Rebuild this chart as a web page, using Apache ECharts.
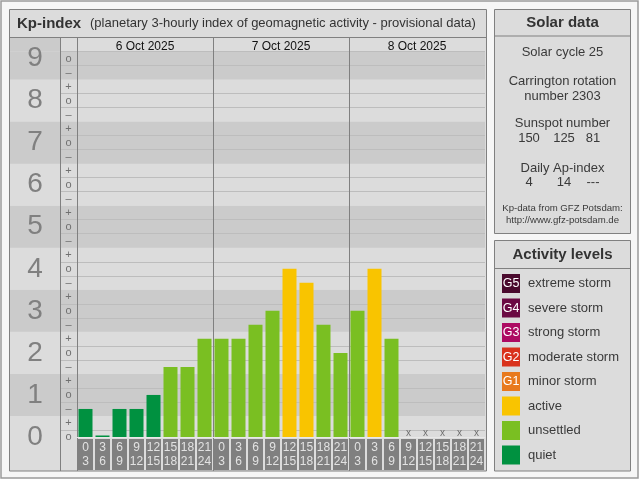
<!DOCTYPE html>
<html>
<head>
<meta charset="utf-8">
<script src="https://cdn.jsdelivr.net/npm/echarts@6/dist/echarts.min.js"></script>
<style>
  html, body { margin: 0; padding: 0; background: #fff; }
  #chart { width: 640px; height: 480px; }
</style>
</head>
<body>
<div id="chart"></div>
<script>
// ─── Data ───────────────────────────────────────────────────────────────────

const days = ['6 Oct 2025', '7 Oct 2025', '8 Oct 2025'];
const hourLabels = ['0\n3', '3\n6', '6\n9', '9\n12', '12\n15', '15\n18', '18\n21', '21\n24'];

// Kp per 3-hour slot, in the usual thirds notation (null = not yet available)
const kpReadings = [
  '1-', '0o', '1-', '1-', '1o', '2-', '2-', '2+',
  '2+', '2+', '3-', '3o', '4o', '4-', '3-', '2o',
  '3o', '4o', '2+', null, null, null, null, null,
];

const kpDigits = [0, 1, 2, 3, 4, 5, 6, 7, 8, 9];

const solarCycle = 25;
const carringtonRotation = 2303;
const sunspotNumbers = ['150', '125', '81'];
const dailyAp = ['4', '14', '---'];

const levels = [
  { tag: 'G5', name: 'extreme storm',  color: '#4a0a2e' },
  { tag: 'G4', name: 'severe storm',   color: '#6b0a43' },
  { tag: 'G3', name: 'strong storm',   color: '#ad0a62' },
  { tag: 'G2', name: 'moderate storm', color: '#d9321c' },
  { tag: 'G1', name: 'minor storm',    color: '#e8791c' },
  { tag: '',   name: 'active',         color: '#f9c400' },
  { tag: '',   name: 'unsettled',      color: '#7abf22' },
  { tag: '',   name: 'quiet',          color: '#009140' },
];

// ─── Helpers ────────────────────────────────────────────────────────────────

const FONT = '"Liberation Sans", Arial, Helvetica, sans-serif';
const LIGHT = '#dcdcdc';
const DARK = '#cbcbcb';
const BORDER = '#808080';
const TEXT = '#3a3a3a';
const kpTop = 9 + 1 / 6;

function kpValue(s) {
  const q = s[1];
  return +s[0] + (q === '+' ? 1 / 3 : q === '-' ? -1 / 3 : 0);
}

function levelColor(v) {
  const r = Math.round(v);
  if (r <= 1) return levels[7].color;
  if (r <= 3) return levels[6].color;
  if (r === 4) return levels[5].color;
  return levels[9 - r].color;
}

const kpValues = kpReadings.map(s => (s === null ? null : kpValue(s)));
const slotCats = days.flatMap(d => hourLabels.map(h => d + '|' + h));
const missing = kpValues.map((v, i) => (v === null ? i : -1)).filter(i => i >= 0);

// sub rows of the scale, bottom to top: 0o 0+ 1- 1o 1+ ... 9- 9o
const subCats = [];
kpDigits.forEach(n => {
  ['-', 'o', '+'].forEach(q => {
    if ((n === 0 && q === '-') || (n === 9 && q === '+')) return;
    subCats.push(n + q);
  });
});
const subSymbol = { '-': '\u2013', 'o': 'o', '+': '+' };

const bands = kpDigits.map(n => [
  { yAxis: Math.max(n - 0.5, 0), itemStyle: { color: n % 2 ? DARK : LIGHT } },
  { yAxis: Math.min(n + 0.5, kpTop) },
]);

// ─── Side panels (decoration) ───────────────────────────────────────────────

function txt(x, y, text, size, opts = {}) {
  return {
    type: 'text', x, y, z: 10,
    style: Object.assign({
      text, fontSize: size, fontFamily: FONT, fill: TEXT,
      align: 'center', verticalAlign: 'middle',
    }, opts),
  };
}

const cx = 562.5;
const graphics = [
  { type: 'rect', z: -10, shape: { x: 1, y: 1, width: 637, height: 477 },
    style: { fill: '#f6f6f6', stroke: '#9a9a9a', lineWidth: 1.5 } },
  { type: 'rect', z: -9, shape: { x: 9.5, y: 9.5, width: 477, height: 461.5 },
    style: { fill: LIGHT, stroke: BORDER } },
  { type: 'line', z: -8, shape: { x1: 9.5, y1: 37.5, x2: 486.5, y2: 37.5 }, style: { stroke: BORDER } },
  { type: 'rect', z: -8, shape: { x: 10, y: 38, width: 50.5, height: 13.5 }, style: { fill: DARK } },
  { type: 'line', z: 4, shape: { x1: 60.5, y1: 37.5, x2: 60.5, y2: 471 }, style: { stroke: BORDER } },
  txt(17, 23.5, 'Kp-index', 15, { fontWeight: 'bold', align: 'left', fill: '#333' }),
  txt(90, 23.5, '(planetary 3-hourly index of geomagnetic activity - provisional data)', 13,
      { align: 'left', fill: '#333' }),

  // Solar data
  { type: 'rect', z: -9, shape: { x: 494.5, y: 9.5, width: 136, height: 224 },
    style: { fill: LIGHT, stroke: BORDER } },
  { type: 'line', z: -8, shape: { x1: 494.5, y1: 36, x2: 630.5, y2: 36 }, style: { stroke: BORDER } },
  txt(cx, 23, 'Solar data', 15, { fontWeight: 'bold', fill: '#333' }),
  txt(cx, 52, 'Solar cycle ' + solarCycle, 13),
  txt(cx, 81, 'Carrington rotation', 13),
  txt(cx, 96, 'number ' + carringtonRotation, 13),
  txt(cx, 123.5, 'Sunspot number', 13),
  txt(cx, 168, 'Daily Ap-index', 13),
  txt(cx, 208.5, 'Kp-data from GFZ Potsdam:', 9.6),
  txt(cx, 220.5, 'http://www.gfz-potsdam.de', 9.6),

  // Activity levels
  { type: 'rect', z: -9, shape: { x: 494.5, y: 240.5, width: 136, height: 230.5 },
    style: { fill: LIGHT, stroke: BORDER } },
  { type: 'line', z: -8, shape: { x1: 494.5, y1: 268.5, x2: 630.5, y2: 268.5 }, style: { stroke: BORDER } },
  txt(cx, 254.5, 'Activity levels', 15, { fontWeight: 'bold', fill: '#333' }),
];

const numCols = [529, 564, 593];
sunspotNumbers.forEach((s, i) => graphics.push(txt(numCols[i], 138, s, 13)));
dailyAp.forEach((s, i) => graphics.push(txt(numCols[i], 182.5, s, 13)));

levels.forEach((lv, i) => {
  const y = 283.5 + i * 24.5;
  graphics.push({ type: 'rect', z: 9, shape: { x: 502, y: y - 9.5, width: 18, height: 19 },
                  style: { fill: lv.color } });
  if (lv.tag) graphics.push(txt(511, y + 0.5, lv.tag, 12.5, { fill: '#fff' }));
  graphics.push(txt(528, y, lv.name, 13, { align: 'left' }));
});

// ─── Chart ──────────────────────────────────────────────────────────────────

const chart = echarts.init(document.getElementById('chart'), null, { renderer: 'canvas' });

const plotGrid = { left: 77, right: 155, top: 51.5, bottom: 43, outerBoundsMode: 'none', containLabel: false };

chart.setOption({
  animation: false,
  backgroundColor: '#ffffff',
  textStyle: { fontFamily: FONT },
  graphic: graphics,
  grid: [
    plotGrid,                                                                  // 0 bars
    { left: 10, right: 155, top: 51.5, bottom: 43, outerBoundsMode: 'none' },   // 1 bands + big digits
    { left: 60, right: 155, top: 51.5, bottom: 36, outerBoundsMode: 'none' },   // 2 sub rows
    { left: 77, right: 155, top: 37.5, bottom: 9, outerBoundsMode: 'none' },    // 3 days
  ],
  xAxis: [
    {
      gridIndex: 0, type: 'category', data: slotCats,
      axisTick: { show: false },
      axisLine: { show: true, lineStyle: { color: '#e8e8e8', width: 1 } },
      splitLine: { show: false },
      z: 6,
      axisLabel: {
        interval: 0, formatter: v => v.split('|')[1],
        margin: 2, color: '#e2e2e2', fontSize: 12, lineHeight: 13.5,
        width: 15, padding: [2, 0, 2, 0], backgroundColor: '#808080',
        align: 'center', verticalAlign: 'top', overflow: 'none',
      },
    },
    { gridIndex: 1, type: 'value', min: 0, max: 1, show: false },
    { gridIndex: 2, type: 'value', min: 0, max: 1, show: false },
    {
      gridIndex: 3, type: 'category', data: days, position: 'top',
      axisLine: { show: false }, axisTick: { show: false },
      axisLabel: { inside: true, margin: 3, color: '#111', fontSize: 12, interval: 0 },
      splitLine: { show: true, interval: 0, showMaxLine: false, lineStyle: { color: BORDER, width: 1 } },
      z: 4,
    },
  ],
  yAxis: [
    { gridIndex: 0, type: 'value', min: 0, max: kpTop, show: false },
    {
      gridIndex: 1, type: 'value', min: 0, max: kpTop, interval: 1,
      axisLine: { show: false }, axisTick: { show: false }, splitLine: { show: false },
      axisLabel: {
        inside: true, margin: 25, align: 'center', fontSize: 28, color: '#808080',
        formatter: v => (Number.isInteger(v) ? String(v) : ''),
      },
      z: 3,
    },
    {
      gridIndex: 2, type: 'category', data: subCats,
      axisLine: { show: false }, axisTick: { show: false },
      axisLabel: {
        inside: true, margin: 8.5, align: 'center', fontSize: 11, color: '#707070', interval: 0,
        formatter: v => subSymbol[v[1]],
      },
      splitLine: {
        show: true,
        interval: i => i > 0 && !(subCats[i] || '').endsWith('-'),
        lineStyle: { color: '#bdbdbd', width: 1 },
      },
      z: 3,
    },
    { gridIndex: 3, type: 'value', show: false },
  ],
  series: [
    {
      type: 'line', xAxisIndex: 1, yAxisIndex: 1, data: [], silent: true,
      markArea: { silent: true, z: 1, data: bands },
    },
    {
      type: 'bar', xAxisIndex: 0, yAxisIndex: 0, z: 5,
      barWidth: 14, barMinHeight: 1.5,
      data: kpValues.map(v => (v === null ? null : { value: v, itemStyle: { color: levelColor(v) } })),
    },
    {
      type: 'scatter', xAxisIndex: 0, yAxisIndex: 0, z: 6,
      symbolSize: 1, itemStyle: { color: 'rgba(0,0,0,0)' },
      data: missing.map(i => [i, 0]),
      label: { show: true, formatter: 'x', position: 'inside', offset: [0, -4], fontSize: 10, color: '#555' },
    },
  ],
});
</script>
</body>
</html>
